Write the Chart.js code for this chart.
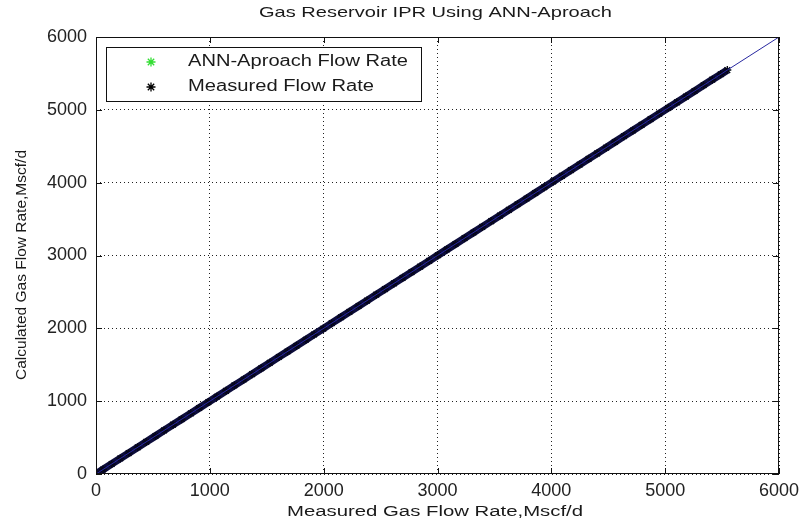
<!DOCTYPE html>
<html>
<head>
<meta charset="utf-8">
<script src="https://cdn.jsdelivr.net/npm/chart.js@4.4.1/dist/chart.umd.min.js"></script>
<style>
  body { margin: 0; background: #fff; }
  #wrap { width: 801px; height: 523px; }
</style>
</head>
<body>
<div id="wrap"><canvas id="ipr" width="801" height="523"></canvas></div>
<script>
// values (Mscf/d)
const measured = [5, 62, 138, 214, 287, 366, 441, 522, 598, 677, 752, 833, 906, 987, 1061, 1142,
  1216, 1297, 1371, 1452, 1526, 1607, 1682, 1761, 1843, 1916, 1997, 2071, 2152, 2226, 2307, 2381,
  2462, 2538, 2617, 2693, 2772, 2848, 2927, 3003, 3082, 3158, 3238, 3316, 3393, 3472, 3548, 3627,
  3703, 3782, 3858, 3938, 4017, 4093, 4172, 4248, 4327, 4403, 4482, 4558, 4638, 4716, 4793, 4872,
  4948, 5027, 5103, 5182, 5258, 5338, 5414, 5488, 5546];
const annRate = [8, 58, 142, 209, 293, 361, 446, 517, 603, 671, 758, 827, 911, 982, 1067, 1136,
  1222, 1291, 1377, 1446, 1532, 1601, 1688, 1755, 1849, 1910, 2003, 2065, 2158, 2220, 2313, 2375,
  2468, 2532, 2623, 2687, 2778, 2842, 2933, 2997, 3088, 3152, 3244, 3310, 3399, 3466, 3554, 3621,
  3709, 3776, 3864, 3932, 4023, 4087, 4178, 4242, 4333, 4397, 4488, 4552, 4644, 4710, 4799, 4866,
  4954, 5021, 5109, 5176, 5264, 5332, 5420, 5482, 5544];
const perfectLine = [0, 6000];
const tickValues = [0, 1000, 2000, 3000, 4000, 5000, 6000];

const titleText = "Gas Reservoir IPR Using ANN-Aproach";
const xTitle = "Measured Gas Flow Rate,Mscf/d";
const yTitle = "Calculated Gas Flow Rate,Mscf/d";
const seriesNames = ["ANN-Aproach Flow Rate", "Measured Flow Rate"];

// stretch text to a width, like the matlab export
function fitText(ctx, text, cx, cy, width, size, rot) {
  ctx.save();
  ctx.font = size + "px Arial, 'Liberation Sans', sans-serif";
  const w = ctx.measureText(text).width;
  ctx.translate(cx, cy);
  if (rot) ctx.rotate(rot);
  ctx.scale(width / w, 1);
  ctx.fillStyle = "#1a1a1a";
  ctx.textAlign = "center";
  ctx.textBaseline = "middle";
  ctx.fillText(text, 0, 0);
  ctx.restore();
}

function star(ctx, x, y, r, color) {
  ctx.save();
  ctx.strokeStyle = color;
  ctx.lineWidth = 1.3;
  ctx.beginPath();
  for (let i = 0; i < 4; i++) {
    const a = i * Math.PI / 4;
    ctx.moveTo(x - r * Math.cos(a), y - r * Math.sin(a));
    ctx.lineTo(x + r * Math.cos(a), y + r * Math.sin(a));
  }
  ctx.stroke();
  ctx.restore();
}

const frame = {
  id: "frame",
  beforeDraw(chart) {
    const ctx = chart.ctx;
    ctx.save();
    ctx.fillStyle = "#fff";
    ctx.fillRect(0, 0, chart.width, chart.height);
    ctx.restore();
  },
  afterDatasetsDraw(chart) {
    const ctx = chart.ctx;
    const a = chart.chartArea;
    const xs = chart.scales.x, ys = chart.scales.y;
    ctx.save();
    ctx.strokeStyle = "#111";
    ctx.lineWidth = 1;
    ctx.strokeRect(a.left + 0.5, a.top + 0.5, a.right - a.left - 1, a.bottom - a.top - 1);
    ctx.beginPath();
    tickValues.forEach(v => {
      const px = Math.round(xs.getPixelForValue(v)) + 0.5;
      const py = Math.round(ys.getPixelForValue(v)) + 0.5;
      ctx.moveTo(px, a.bottom); ctx.lineTo(px, a.bottom - 6);
      ctx.moveTo(px, a.top); ctx.lineTo(px, a.top + 6);
      ctx.moveTo(a.left, py); ctx.lineTo(a.left + 6, py);
      ctx.moveTo(a.right, py); ctx.lineTo(a.right - 6, py);
    });
    ctx.stroke();

    // legend box
    ctx.fillStyle = "#fff";
    ctx.fillRect(106, 47, 315, 54);
    ctx.strokeRect(106.5, 47.5, 315, 54);
    ctx.restore();
    star(ctx, 151, 62, 4.5, "#33dd33");
    star(ctx, 151, 87, 4.5, "#000");
    fitText(ctx, seriesNames[0], 188 + 110, 62, 220, 16);
    fitText(ctx, seriesNames[1], 188 + 93, 87, 186, 16);

    fitText(ctx, titleText, 435.5, 13, 353, 15);
    fitText(ctx, xTitle, 435, 512, 296, 14);
    fitText(ctx, yTitle, 22, 265, 230, 14, -Math.PI / 2);
  }
};

const gridOpts = {
  color: "#222",
  lineWidth: 1,
  drawTicks: false
};

const tickFont = { family: "Arial, 'Liberation Sans', sans-serif", size: 18 };

new Chart(document.getElementById("ipr"), {
  type: "scatter",
  data: {
    datasets: [
      {
        label: seriesNames[0],
        data: measured.map((m, i) => ({ x: m, y: annRate[i] })),
        order: 2,
        pointStyle: "star",
        pointRadius: 3,
        borderColor: "#33dd33",
        borderWidth: 1,
        showLine: false
      },
      {
        label: seriesNames[1],
        data: measured.map(m => ({ x: m, y: m })),
        order: 1,
        showLine: true,
        borderColor: "#0d0d3c",
        borderWidth: 7.5,
        pointStyle: "star",
        pointRadius: 4,
        pointBorderColor: "#050518",
        pointBorderWidth: 1.4
      },
      {
        label: "y = x",
        data: perfectLine.map(v => ({ x: v, y: v })),
        order: 0,
        showLine: true,
        borderColor: "#2828a0",
        borderWidth: 1,
        pointRadius: 0
      }
    ]
  },
  options: {
    responsive: false,
    animation: false,
    devicePixelRatio: 1,
    layout: { padding: { top: 37, right: 22, left: 0, bottom: 0 } },
    plugins: {
      legend: { display: false },
      title: { display: false },
      tooltip: { enabled: false }
    },
    scales: {
      x: {
        type: "linear",
        min: 0,
        max: 6000,
        afterFit: s => { s.height = 49; s.paddingLeft = 0; s.paddingRight = 0; },
        afterBuildTicks: s => { s.ticks = tickValues.map(v => ({ value: v })); },
        ticks: {
          padding: 6,
          color: "#222",
          font: tickFont,
          maxRotation: 0,
          callback: v => String(v)
        },
        grid: gridOpts,
        border: { display: false, dash: [1, 3] }
      },
      y: {
        type: "linear",
        min: 0,
        max: 6000,
        afterFit: s => { s.width = 96; s.paddingTop = 0; s.paddingBottom = 0; },
        afterBuildTicks: s => { s.ticks = tickValues.map(v => ({ value: v })); },
        ticks: {
          padding: 9,
          color: "#222",
          font: tickFont,
          callback: v => String(v)
        },
        grid: gridOpts,
        border: { display: false, dash: [1, 3] }
      }
    }
  },
  plugins: [frame]
});
</script>
</body>
</html>
